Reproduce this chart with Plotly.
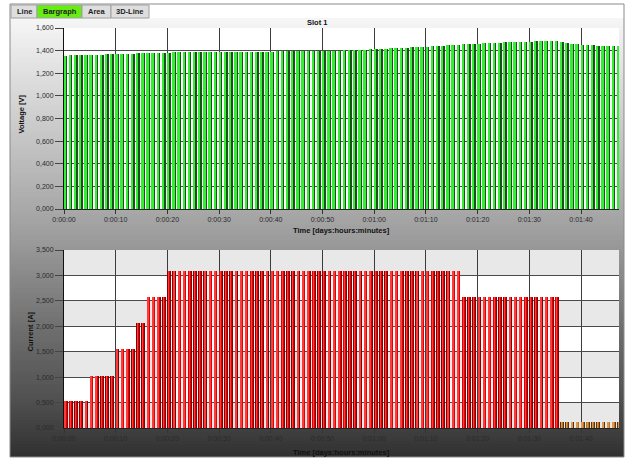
import plotly.graph_objects as go

# ---------------------------------------------------------------- data
minutes = list(range(108))

voltage = [
    1.355, 1.357, 1.358, 1.360, 1.361, 1.362, 1.363, 1.365, 1.366, 1.367,
    1.369, 1.370, 1.372, 1.373, 1.375, 1.376, 1.378, 1.379, 1.380, 1.382,
    1.383, 1.384, 1.385, 1.386, 1.387, 1.387, 1.388, 1.389, 1.389, 1.390,
    1.390, 1.390, 1.391, 1.391, 1.391, 1.392, 1.392, 1.392, 1.392, 1.392,
    1.392, 1.393, 1.393, 1.393, 1.393, 1.393, 1.393, 1.394, 1.395, 1.396,
    1.397, 1.398, 1.399, 1.400, 1.402, 1.404, 1.405, 1.407, 1.409, 1.411,
    1.413, 1.415, 1.417, 1.419, 1.421, 1.423, 1.425, 1.428, 1.430, 1.432,
    1.435, 1.438, 1.441, 1.444, 1.448, 1.450, 1.452, 1.455, 1.458, 1.461,
    1.463, 1.465, 1.467, 1.469, 1.471, 1.472, 1.474, 1.475, 1.477, 1.478,
    1.480, 1.481, 1.482, 1.484, 1.485, 1.487, 1.474, 1.468, 1.462, 1.457,
    1.452, 1.449, 1.446, 1.444, 1.442, 1.440, 1.438, 1.437,
]

current = [
    0.53, 0.53, 0.53, 0.53, 0.53, 1.03, 1.03, 1.03, 1.03, 1.03,
    1.55, 1.55, 1.55, 1.55, 2.07, 2.07, 2.58, 2.58, 2.58, 2.58,
    3.09, 3.09, 3.09, 3.09, 3.09, 3.09, 3.09, 3.09, 3.09, 3.09,
    3.09, 3.09, 3.09, 3.09, 3.09, 3.09, 3.09, 3.09, 3.09, 3.09,
    3.09, 3.09, 3.09, 3.09, 3.09, 3.09, 3.09, 3.09, 3.09, 3.09,
    3.09, 3.09, 3.09, 3.09, 3.09, 3.09, 3.09, 3.09, 3.09, 3.09,
    3.09, 3.09, 3.09, 3.09, 3.09, 3.09, 3.09, 3.09, 3.09, 3.09,
    3.09, 3.09, 3.09, 3.09, 3.09, 3.09, 3.09, 2.58, 2.58, 2.58,
    2.58, 2.58, 2.58, 2.58, 2.58, 2.58, 2.58, 2.58, 2.58, 2.58,
    2.58, 2.58, 2.58, 2.58, 2.58, 2.58, 0.12, 0.12, 0.12, 0.12,
    0.12, 0.12, 0.12, 0.12, 0.12, 0.12, 0.12, 0.12,
]

time_ticks = [0, 10, 20, 30, 40, 50, 60, 70, 80, 90, 100]
time_labels = ["0:00:00", "0:00:10", "0:00:20", "0:00:30", "0:00:40", "0:00:50",
               "0:01:00", "0:01:10", "0:01:20", "0:01:30", "0:01:40"]
volt_ticks = [0.0, 0.2, 0.4, 0.6, 0.8, 1.0, 1.2, 1.4, 1.6]
volt_labels = ["0,000", "0,200", "0,400", "0,600", "0,800",
               "1,000", "1,200", "1,400", "1,600"]
amp_ticks = [0.0, 0.5, 1.0, 1.5, 2.0, 2.5, 3.0, 3.5]
amp_labels = ["0,000", "0,500", "1,000", "1,500", "2,000", "2,500", "3,000", "3,500"]
tab_names = ["Line", "Bargraph", "Area", "3D-Line"]

# ---------------------------------------------------------------- helpers
W, H = 629, 462
FONT = "Liberation Sans, Arial, sans-serif"


def px(x):
    return x / W


def py(y):
    return 1 - y / H


def bar_layer(y, axis, offset, width, colors):
    return go.Bar(
        x=minutes, y=y, xaxis="x" + axis, yaxis="y" + axis,
        offset=offset, width=width,
        marker=dict(color=colors, line=dict(width=0)),
        hoverinfo="skip", showlegend=False,
    )


# rest phase (near-zero current) is drawn in brown
is_rest = [c < 0.2 for c in current]
cur_shadow = ["#5c3208" if r else "#850000" for r in is_rest]
cur_face = ["#b8722a" if r else "#e40000" for r in is_rest]
cur_light = ["#d89a50" if r else "#ff3a3a" for r in is_rest]

traces = [
    # voltage: dark side + bright green face
    bar_layer(voltage, "", 0.02, 0.62, "#1f4d1f"),
    bar_layer(voltage, "", 0.02, 0.36, "#33ee33"),
    # current: dark rim, red body, highlight stripe
    bar_layer(current, "2", -0.02, 0.70, cur_shadow),
    bar_layer(current, "2", 0.06, 0.48, cur_face),
    bar_layer(current, "2", 0.18, 0.10, cur_light),
]

fig = go.Figure(data=traces)

# ---------------------------------------------------------------- shapes
shapes = []

# vertical grey gradient of the panel (overlapping strips, no seams)
stops = [(18, 246), (120, 205), (230, 160), (330, 110), (400, 80), (457, 48)]


def shade(y):
    for (y0, c0), (y1, c1) in zip(stops[:-1], stops[1:]):
        if y0 <= y <= y1:
            return round(c0 + (c1 - c0) * (y - y0) / (y1 - y0))
    return stops[-1][1]


step = 3
y = 18
while y < 457:
    c = shade(y + step / 2)
    shapes.append(dict(type="rect", xref="paper", yref="paper",
                       x0=px(10), x1=px(624),
                       y0=py(min(y + step + 1.5, 457)), y1=py(y),
                       fillcolor=f"rgb({c},{c},{c})", line=dict(width=0),
                       layer="below"))
    y += step

# white plot areas on top of the gradient
for (x0, x1, y0, y1) in [(64, 619, 28, 209), (64, 619, 250, 428)]:
    shapes.append(dict(type="rect", xref="paper", yref="paper",
                       x0=px(x0), x1=px(x1), y0=py(y1), y1=py(y0),
                       fillcolor="white", line=dict(width=0), layer="below"))

# alternating bands in the current chart
for lo in [0.0, 1.0, 2.0, 3.0]:
    shapes.append(dict(type="rect", xref="x2 domain", yref="y2",
                       x0=0, x1=1, y0=lo, y1=lo + 0.5,
                       fillcolor="#e8e8e8", line=dict(width=0), layer="below"))

# panel frame
shapes.append(dict(type="rect", xref="paper", yref="paper",
                   x0=px(10), x1=px(624), y0=py(457), y1=py(4),
                   line=dict(color="#8a8a8a", width=1), fillcolor="rgba(0,0,0,0)"))

# tab strip
tab_edges = [11, 37, 82, 111, 149]
annotations = []
for i, name in enumerate(tab_names):
    x0, x1 = tab_edges[i], tab_edges[i + 1]
    fill = "#66ee11" if name == "Bargraph" else "#dedede"
    shapes.append(dict(type="rect", xref="paper", yref="paper",
                       x0=px(x0), x1=px(x1), y0=py(18), y1=py(5),
                       fillcolor=fill, line=dict(color="#a0a0a0", width=1)))
    annotations.append(dict(text=f"<b>{name}</b>", xref="paper", yref="paper",
                            x=px((x0 + x1) / 2), y=py(11.5), showarrow=False,
                            font=dict(family=FONT, size=7.5, color="#222"),
                            xanchor="center", yanchor="middle"))


# titles
def label(text, x, y, angle=0, size=7.5):
    return dict(text=f"<b>{text}</b>", xref="paper", yref="paper",
                x=px(x), y=py(y), showarrow=False, textangle=angle,
                font=dict(family=FONT, size=size, color="#111"),
                xanchor="center", yanchor="middle")


annotations += [
    label("Slot 1", 317, 22),
    label("Voltage [V]", 21.5, 114, -90),
    label("Current [A]", 29.5, 332, -90),
    label("Time [days:hours:minutes]", 341, 230.5),
    label("Time [days:hours:minutes]", 341, 452),
]

# ---------------------------------------------------------------- axes
tick_font = dict(family=FONT, size=7, color="#2a2a2a")


def x_axis(anchor, domain):
    return dict(domain=domain, anchor=anchor, range=[0, 107.35],
                tickmode="array", tickvals=time_ticks, ticktext=time_labels,
                ticks="outside", ticklen=4, tickcolor="#333", tickfont=tick_font,
                showgrid=True, gridcolor="#3c3c3c", gridwidth=1,
                showline=True, linecolor="#222", linewidth=1,
                zeroline=False, fixedrange=True, automargin=False)


def y_axis(anchor, domain, rng, vals, text):
    return dict(domain=domain, anchor=anchor, range=rng,
                tickmode="array", tickvals=vals, ticktext=text,
                ticks="outside", ticklen=8, tickcolor="#444", tickfont=tick_font,
                showgrid=True, gridcolor="#4a4a4a", gridwidth=1,
                showline=True, linecolor="#111", linewidth=1,
                zeroline=False, fixedrange=True, automargin=False)


xdom = [px(64), px(619)]
fig.update_layout(
    width=W, height=H, autosize=False,
    margin=dict(l=0, r=0, t=0, b=0, pad=0, autoexpand=False),
    paper_bgcolor="white", plot_bgcolor="white",
    barmode="overlay", bargap=0,
    showlegend=False,
    xaxis=x_axis("y", xdom),
    yaxis=y_axis("x", [py(209), py(28)], [0, 1.6], volt_ticks, volt_labels),
    xaxis2=x_axis("y2", xdom),
    yaxis2=y_axis("x2", [py(428), py(250)], [0, 3.5], amp_ticks, amp_labels),
    shapes=shapes,
    annotations=annotations,
)

fig.write_html("out.html", config=dict(displayModeBar=False, responsive=False))
